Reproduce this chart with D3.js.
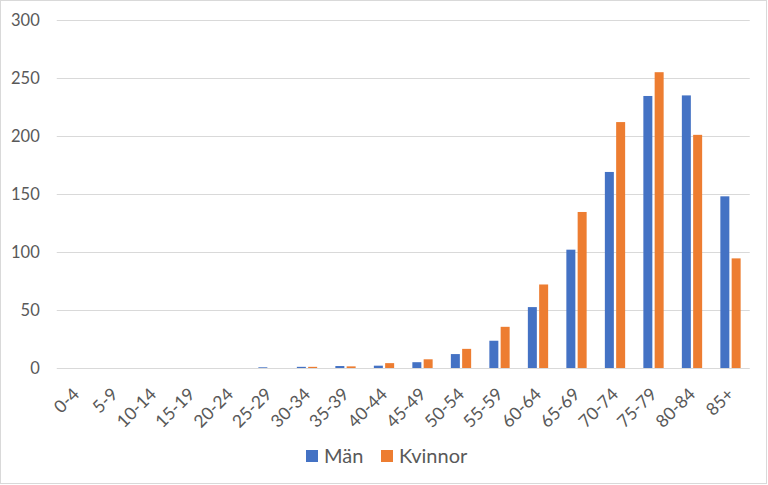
<!DOCTYPE html>
<html><head><meta charset="utf-8">
<script src="https://cdn.jsdelivr.net/npm/d3@7"></script>
<style>body{margin:0;background:#fff}svg{display:block}text{font-family:Lato,"Open Sans",sans-serif}</style>
</head><body><svg id="c" width="768" height="485"></svg>
<script>
const categories = ["0-4","5-9","10-14","15-19","20-24","25-29","30-34","35-39","40-44","45-49","50-54","55-59","60-64","65-69","70-74","75-79","80-84","85+"];
const series = ["Män","Kvinnor"];
const man = [0,0,0,0,0,0.6,1,1.7,2,5,12,23.5,52.5,102,169,234.5,235,148];
const kvinnor = [0,0,0,0,0,0,1,1.4,4.2,7.5,16.5,35.5,72,134.5,212,255,201,94.5];
const yTicks = [0,50,100,150,200,250,300];
const colors = ["#4472C4","#ED7D31"];

const svg = d3.select("#c");
svg.append("rect").attr("x",0.5).attr("y",0.5).attr("width",766).attr("height",483)
  .attr("fill","#fff").attr("stroke","#d9d9d9").attr("stroke-width",1);

const pL=56.75, pR=749.75, pT=20, pB=368;
const x0 = d3.scaleBand().domain(categories).range([pL,pR]).paddingInner(0.473).paddingOuter(0.2365);
const x1 = d3.scaleBand().domain(series).range([0,x0.bandwidth()]).paddingInner(0.2035);
const y = d3.scaleLinear().domain([0,300]).range([pB,pT]);

// gridlines
svg.append("g").selectAll("line").data(yTicks.filter(d=>d>0)).join("line")
  .attr("x1",pL).attr("x2",pR).attr("y1",d=>Math.round(y(d))+0.5).attr("y2",d=>Math.round(y(d))+0.5)
  .attr("stroke","#d9d9d9").attr("stroke-width",1);

// y labels
const yAxis = d3.axisLeft(y).tickValues(yTicks).tickSize(0).tickPadding(0);
const gy = svg.append("g").attr("transform",`translate(${pL-17},0)`).call(yAxis);
gy.select(".domain").remove();
gy.selectAll("text").attr("fill","#595959").style("font-size","16.5px").attr("font-family","Lato");

// bars
const data = categories.map((c,i)=>({c, vals:[man[i],kvinnor[i]]}));
const g = svg.append("g");
series.forEach((s,si)=>{
  g.selectAll(null).data(data).join("rect")
    .attr("x",d=>x0(d.c)+x1(s))
    .attr("width",x1.bandwidth())
    .attr("y",d=>y(d.vals[si]))
    .attr("height",d=>pB-y(d.vals[si]))
    .attr("fill",colors[si]);
});

// x axis line
svg.append("line").attr("x1",pL).attr("x2",pR).attr("y1",pB+0.5).attr("y2",pB+0.5)
  .attr("stroke","#d9d9d9").attr("stroke-width",1);

// x labels
const xAxis = d3.axisBottom(x0).tickSize(0).tickPadding(0);
const gx = svg.append("g").attr("transform",`translate(0,${pB})`).call(xAxis);
gx.select(".domain").remove();
gx.selectAll("text").attr("fill","#595959").style("font-size","17.5px").attr("font-family","Lato")
  .attr("text-anchor","end").attr("y",0).attr("dy","0.35em")
  .attr("transform","translate(0,23) rotate(-45)");

// legend
const leg = svg.append("g");
const legX = [306, 381];
series.forEach((s,i)=>{
  leg.append("rect").attr("x",legX[i]).attr("y",450).attr("width",12).attr("height",12).attr("fill",colors[i]);
  leg.append("text").attr("x",legX[i]+18).attr("y",462.5).text(s).attr("fill","#595959").style("font-size","20px");
});
</script></body></html>
